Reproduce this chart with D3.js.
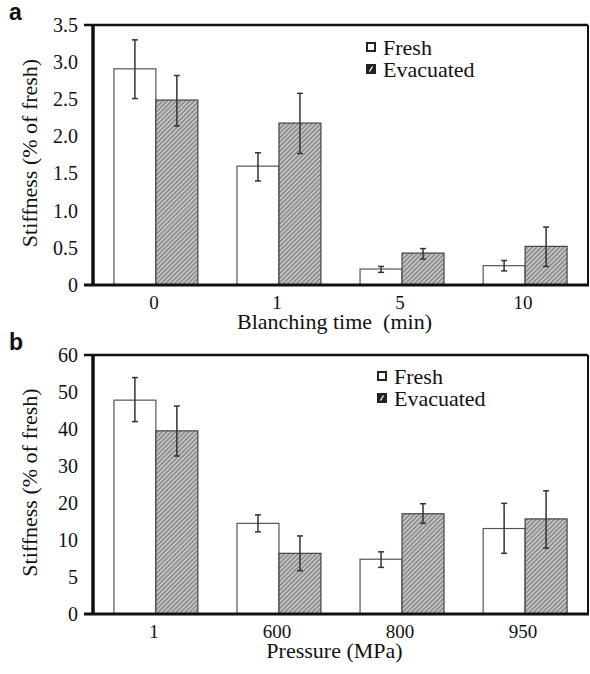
<!DOCTYPE html>
<html><head><meta charset="utf-8">
<script src="https://cdn.jsdelivr.net/npm/d3@7"></script>
</head><body style="margin:0;background:#fff">
<script>
// ---- Data ----
const seriesNames = ["Fresh", "Evacuated"];

const catsA = ["0", "1", "5", "10"];
const freshA = [2.91, 1.60, 0.215, 0.26];
const freshAErrLo = [2.51, 1.40, 0.17, 0.19];
const freshAErrHi = [3.30, 1.78, 0.25, 0.33];
const evacA = [2.49, 2.18, 0.43, 0.52];
const evacAErrLo = [2.14, 1.77, 0.35, 0.25];
const evacAErrHi = [2.82, 2.58, 0.49, 0.78];
const ticksA = [0, 0.5, 1.0, 1.5, 2.0, 2.5, 3.0, 3.5];
const tickLabelsA = ["0", "0.5", "1.0", "1.5", "2.0", "2.5", "3.0", "3.5"];

const catsB = ["1", "600", "800", "950"];
const freshB = [47.8, 14.5, 7.4, 13.1];
const freshBErrLo = [42.0, 12.2, 6.3, 8.2];
const freshBErrHi = [53.9, 16.8, 8.4, 19.9];
const evacB = [39.5, 8.2, 17.1, 15.7];
const evacBErrLo = [32.7, 5.85, 14.5, 8.9];
const evacBErrHi = [46.2, 11.1, 19.8, 23.3];
const ticksB = [0, 5, 10, 20, 30, 40, 50, 60];
const tickLabelsB = ["0", "5", "10", "20", "30", "40", "50", "60"];

const W = 590, H = 674;
const SERIF = '"Liberation Serif"';
const SANS = '"Liberation Sans"';
const svg = d3.select("body").append("svg").attr("width", W).attr("height", H)
  .style("display", "block");

const defs = svg.append("defs");
const pat = defs.append("pattern").attr("id", "hatch")
  .attr("patternUnits", "userSpaceOnUse").attr("width", 3.2).attr("height", 3.2)
  .attr("patternTransform", "rotate(45)");
pat.append("rect").attr("width", 3.2).attr("height", 3.2).attr("fill", "#c6c6c6");
pat.append("line").attr("x1", 0.8).attr("y1", 0).attr("x2", 0.8).attr("y2", 3.2)
  .attr("stroke", "#7e7e7e").attr("stroke-width", 1.3);

function panel(opt) {
  const {left, right, cats, fresh, fLo, fHi, evac, eLo, eHi,
         yScale, ticks, tickLabels, xTitle, letter, legendX, legendY} = opt;
  const g = svg.append("g");
  const x0 = d3.scaleBand().domain(cats).range([left, right])
    .paddingInner(0.318).paddingOuter(0.17);
  const x1 = d3.scaleBand().domain(seriesNames).range([0, x0.bandwidth()]);
  const y = yScale;

  // bars
  cats.forEach((c, i) => {
    const vals = [
      {s: "Fresh", v: fresh[i], lo: fLo[i], hi: fHi[i]},
      {s: "Evacuated", v: evac[i], lo: eLo[i], hi: eHi[i]}
    ];
    vals.forEach(d => {
      const bx = x0(c) + x1(d.s);
      g.append("rect")
        .attr("x", bx).attr("y", y(d.v))
        .attr("width", x1.bandwidth()).attr("height", y(0) - y(d.v))
        .attr("fill", d.s === "Fresh" ? "#fff" : "url(#hatch)")
        .attr("stroke", d.s === "Fresh" ? "#555" : "#444")
        .attr("stroke-width", 1.2);
    });
    vals.forEach(d => {
      const cx = x0(c) + x1(d.s) + x1.bandwidth() / 2;
      g.append("line").attr("x1", cx).attr("x2", cx)
        .attr("y1", y(d.hi)).attr("y2", y(d.lo))
        .attr("stroke", "#333").attr("stroke-width", 1.5);
      [d.hi, d.lo].forEach(v => {
        g.append("line").attr("x1", cx - 3).attr("x2", cx + 3)
          .attr("y1", y(v)).attr("y2", y(v))
          .attr("stroke", "#333").attr("stroke-width", 1.5);
      });
    });
  });

  // frame
  const yTop = y(ticks[ticks.length - 1]), yBot = y(0);
  g.append("line").attr("x1", left - 9).attr("x2", right).attr("y1", yTop).attr("y2", yTop)
    .attr("stroke", "#111").attr("stroke-width", 2.5);
  g.append("line").attr("x1", right).attr("x2", right).attr("y1", yTop).attr("y2", yBot)
    .attr("stroke", "#111").attr("stroke-width", 2);
  g.append("line").attr("x1", left - 9).attr("x2", right + 1).attr("y1", yBot).attr("y2", yBot)
    .attr("stroke", "#111").attr("stroke-width", 3);
  g.append("line").attr("x1", left).attr("x2", left).attr("y1", yTop - 1).attr("y2", yBot + 1)
    .attr("stroke", "#111").attr("stroke-width", 3.5);

  // y axis labels via d3 axis
  const yAxis = d3.axisLeft(y).tickValues(ticks).tickSize(0).tickPadding(0)
    .tickFormat((d, i) => tickLabels[i]);
  const ya = g.append("g").attr("transform", `translate(${left - 15},0)`).call(yAxis);
  ya.select(".domain").remove();
  ya.selectAll("text").style("font-family", SERIF).style("font-size", "20px").attr("fill", "#111");

  // x axis labels
  const xAxis = d3.axisBottom(x0).tickSize(0).tickPadding(0);
  const xa = g.append("g").attr("transform", `translate(-2,${yBot + 10})`).call(xAxis);
  xa.select(".domain").remove();
  xa.selectAll("text").style("font-family", SERIF).style("font-size", "19px").attr("fill", "#111");

  // titles
  g.append("text").attr("x", (left + right) / 2 - 6).attr("y", yBot + 44)
    .attr("text-anchor", "middle").style("font-family", SERIF).style("font-size", "22px")
    .attr("fill", "#111").text(xTitle);
  g.append("text")
    .attr("transform", `translate(37,${(yTop + yBot) / 2 - 2}) rotate(-90)`)
    .attr("text-anchor", "middle").style("font-family", SERIF).style("font-size", "22px")
    .attr("fill", "#111").text("Stiffness (% of fresh)");

  // panel letter
  g.append("text").attr("x", 9).attr("y", yTop - 5)
    .style("font-family", SANS).style("font-weight", "bold")
    .style("font-size", "23px").attr("fill", "#111").text(letter);

  // legend
  seriesNames.forEach((s, i) => {
    const ly = legendY + i * 22;
    g.append("rect").attr("x", legendX).attr("y", ly - 12).attr("width", 8).attr("height", 8)
      .attr("fill", s === "Fresh" ? "#fff" : "#222")
      .attr("stroke", "#222").attr("stroke-width", 2);
    if (s !== "Fresh") {
      g.append("line").attr("x1", legendX + 2.5).attr("y1", ly - 5.5)
        .attr("x2", legendX + 5.5).attr("y2", ly - 10.5)
        .attr("stroke", "#fff").attr("stroke-width", 1.3);
    }
    g.append("text").attr("x", legendX + 16).attr("y", ly)
      .style("font-family", SERIF).style("font-size", "22px").attr("fill", "#111").text(s);
  });
}

const yA = d3.scaleLinear().domain([0, 3.5]).range([285, 25]);
panel({left: 93, right: 588, cats: catsA,
  fresh: freshA, fLo: freshAErrLo, fHi: freshAErrHi,
  evac: evacA, eLo: evacAErrLo, eHi: evacAErrHi,
  yScale: yA, ticks: ticksA, tickLabels: tickLabelsA,
  xTitle: "Blanching time\u00A0\u00A0(min)", letter: "a", legendX: 367, legendY: 55});

// piecewise-linear scale: labelled ticks are evenly spaced on the axis
const yB = d3.scaleLinear().domain(ticksB)
  .range(ticksB.map((d, i) => 614 - i * (614 - 355) / (ticksB.length - 1)));
panel({left: 93, right: 588, cats: catsB,
  fresh: freshB, fLo: freshBErrLo, fHi: freshBErrHi,
  evac: evacB, eLo: evacBErrLo, eHi: evacBErrHi,
  yScale: yB, ticks: ticksB, tickLabels: tickLabelsB,
  xTitle: "Pressure (MPa)", letter: "b", legendX: 378, legendY: 384});
</script>
</body></html>
